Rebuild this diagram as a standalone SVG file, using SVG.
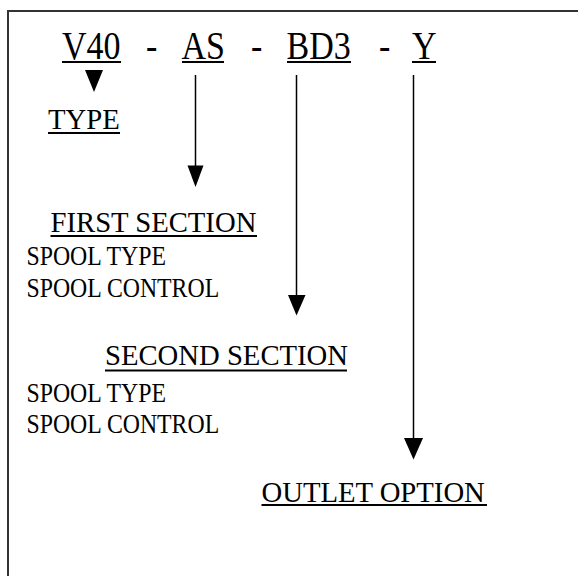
<svg xmlns="http://www.w3.org/2000/svg" width="578" height="576" viewBox="0 0 578 576">
<style>
text{font-family:"Liberation Serif","Times New Roman",serif;fill:#000}
.big{font-size:34px}
.head{font-size:28.7px}
.small{font-size:23.8px}
.ul{stroke:#000;stroke-width:2}
.conn line{stroke:#000;stroke-width:1.5}
.conn polygon{fill:#000}
</style>
<rect x="8" y="11" width="590" height="590" fill="#fff" stroke="#333" stroke-width="2"/>
<g id="code">
<text class="big" transform="matrix(1 0 0 1.15 62 59)">V40</text>
<line class="ul" x1="62" y1="62" x2="121" y2="62"/>
<text class="big" transform="matrix(1 0 0 1.15 146 59)">-</text>
<text class="big" transform="matrix(1 0 0 1.15 181.5 59)">AS</text>
<line class="ul" x1="182" y1="62" x2="224" y2="62"/>
<text class="big" transform="matrix(1 0 0 1.15 251 59)">-</text>
<text class="big" transform="matrix(1 0 0 1.15 286.5 59)">BD3</text>
<line class="ul" x1="287" y1="62" x2="351" y2="62"/>
<text class="big" transform="matrix(1 0 0 1.15 379 59)">-</text>
<text class="big" transform="matrix(1 0 0 1.15 412 59)">Y</text>
<line class="ul" x1="412" y1="62" x2="436" y2="62"/>
</g>
<g id="type">
<text class="head" transform="matrix(1 0 0 1.05 48 129)">TYPE</text>
<line class="ul" x1="48" y1="133" x2="120" y2="133"/>
</g>
<g id="first-section">
<text class="head" transform="matrix(1 0 0 1.05 50.5 231.5)">FIRST SECTION</text>
<line class="ul" x1="50.5" y1="236" x2="257" y2="236"/>
<text class="small" transform="matrix(1 0 0 1.15 26.5 265)">SPOOL TYPE</text>
<text class="small" transform="matrix(1 0 0 1.15 26.5 296.5)">SPOOL CONTROL</text>
</g>
<g id="second-section">
<text class="head" transform="matrix(1 0 0 1.05 105 365)">SECOND SECTION</text>
<line class="ul" x1="105" y1="370.5" x2="347" y2="370.5"/>
<text class="small" transform="matrix(1 0 0 1.15 26.5 401.5)">SPOOL TYPE</text>
<text class="small" transform="matrix(1 0 0 1.15 26.5 432.5)">SPOOL CONTROL</text>
</g>
<g id="outlet-option">
<text class="head" transform="matrix(1 0 0 1.05 261.5 501.5)">OUTLET OPTION</text>
<line class="ul" x1="261.5" y1="505" x2="487" y2="505"/>
</g>
<g class="conn" id="connectors">
<polygon points="85,70 103,70 94,92"/>
<line x1="195.5" y1="75" x2="195.5" y2="168"/>
<polygon points="187.5,165.5 203.5,165.5 195.5,187"/>
<line x1="296.5" y1="75" x2="296.5" y2="297"/>
<polygon points="288,295 305.5,295 296.5,315.5"/>
<line x1="413.5" y1="75" x2="413.5" y2="440"/>
<polygon points="404,438 423,438 413.5,459.5"/>
</g>
</svg>
